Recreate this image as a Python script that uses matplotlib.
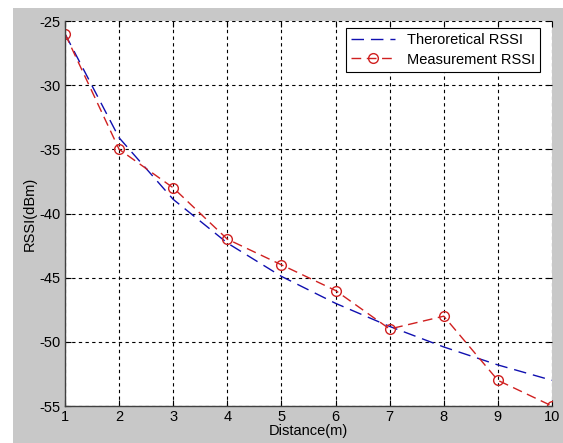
import matplotlib
matplotlib.use("Agg")
import matplotlib.pyplot as plt
from matplotlib.patches import Rectangle

plt.rcParams['font.family'] = ['Liberation Sans', 'DejaVu Sans']
plt.rcParams['axes.unicode_minus'] = False

distance = [1, 2, 3, 4, 5, 6, 7, 8, 9, 10]
theoretical_rssi = [-26, -34.1, -38.9, -42.3, -44.9, -47.0, -48.8, -50.4, -51.8, -53.0]
measured_rssi = [-26, -35, -38, -42, -44, -46, -49, -48, -53, -55]

fig = plt.figure(figsize=(5.63, 4.43), dpi=100)
fig.patch.set_facecolor("white")

# grey MATLAB-style background, leaving a thin white margin top and left
fig.patches.append(Rectangle((13 / 563, 0), 1, 1 - 8 / 443, transform=fig.transFigure,
                             facecolor="#c8c8c8", edgecolor="none", zorder=-10))

ax = fig.add_axes([65 / 563, 1 - 406 / 443, 487 / 563, 385 / 443])
ax.set_facecolor("white")

ax.plot(distance, theoretical_rssi, color="#1010b0", linestyle=(0, (9, 5)), linewidth=1.0,
        label="Theroretical RSSI")
ax.plot(distance, measured_rssi, color="#d02020", linestyle=(0, (7, 4)), linewidth=1.0,
        marker="o", markersize=7, markerfacecolor="none", markeredgecolor="#d02020",
        markeredgewidth=1.0, label="Measurement RSSI")

ax.set_xlim(1, 10)
ax.set_ylim(-55, -25)
ax.set_xticks(range(1, 11))
ax.set_yticks(range(-55, -24, 5))
ax.grid(True, color="black", linestyle=(0, (3, 3)), linewidth=0.8)
ax.tick_params(direction="in", length=4, labelsize=10.5, pad=3, top=True, right=True)

for side in ["left", "bottom"]:
    ax.spines[side].set_color("#404040")
    ax.spines[side].set_linewidth(1.0)
for side in ["top", "right"]:
    ax.spines[side].set_visible(False)

ax.set_xlabel("Distance(m)", fontsize=10.5, labelpad=0)
ax.set_ylabel("RSSI(dBm)", fontsize=10.5, labelpad=2)

leg = ax.legend(loc="upper right", fontsize=10.5, fancybox=False, framealpha=1,
                edgecolor="black", borderaxespad=0.5, handlelength=3.0,
                borderpad=0.35, labelspacing=0.35, bbox_to_anchor=(0.99, 1.0))
leg.get_frame().set_linewidth(0.8)

fig.savefig("out.png", dpi=100, facecolor=fig.get_facecolor())
